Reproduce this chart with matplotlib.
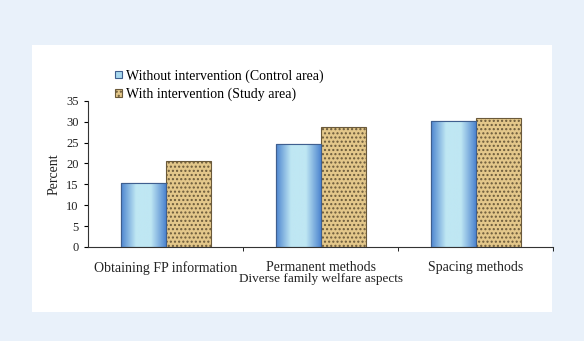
import numpy as np
import matplotlib
matplotlib.use("Agg")
import matplotlib.pyplot as plt
from matplotlib.patches import Rectangle
from matplotlib.colors import LinearSegmentedColormap

#  ------- Data -------  #
categories = ["Obtaining FP information", "Permanent methods", "Spacing methods"]
control = [15.3, 24.7, 30.2]
study = [20.6, 28.8, 31.0]
series_names = ["Without intervention (Control area)", "With intervention (Study area)"]

plt.rcParams['font.family'] = ['Liberation Serif', 'DejaVu Serif']
plt.rcParams['hatch.color'] = "#c9a868"

fig = plt.figure(figsize=(5.84, 3.41), dpi=100)
fig.patch.set_facecolor("#e9f1fa")
# white panel behind the chart
fig.patches.append(Rectangle((0.055, 0.085), 0.89, 0.783, transform=fig.transFigure,
                             facecolor="white", edgecolor="none", zorder=-5))

ax = fig.add_axes([0.151, 0.276, 0.796, 0.428])
ax.set_facecolor("none")
ax.set_zorder(1)

x = np.arange(len(categories))
w = 0.29
blue_bars = ax.bar(x - w / 2, control, w, color="#a8d8ee", edgecolor="#3f5f8f", linewidth=0.8,
                   label=series_names[0], zorder=2)
tan_bars = ax.bar(x + w / 2, study, w, color="#e3c78a", edgecolor="#6b5a3a", linewidth=0.8,
                  hatch="....", label=series_names[1], zorder=2)

# gradient fill for blue bars
cmap = LinearSegmentedColormap.from_list("bl", ["#4f86d0", "#bfe7f3", "#bfe7f3", "#4f86d0"])
grad = np.linspace(0, 1, 100).reshape(1, -1)
for b in blue_bars:
    im = ax.imshow(grad, cmap=cmap, aspect="auto", zorder=2.5,
                   extent=[b.get_x(), b.get_x() + b.get_width(), 0, b.get_height()])
    im.set_clip_path(b)
    ax.add_patch(Rectangle((b.get_x(), 0), b.get_width(), b.get_height(), fill=False,
                           edgecolor="#3f5f8f", linewidth=0.8, zorder=3))

ax.set_xlim(-0.5, 2.5)
ax.set_ylim(0, 35)
ax.set_yticks(range(0, 36, 5))
ax.set_xticks(x)
ax.set_xticklabels(categories, fontsize=10, color="#222222")
ax.set_xticks([0.5, 1.5, 2.5], minor=True)
ax.tick_params(axis="x", which="major", length=0, pad=10)
ax.tick_params(axis="x", which="minor", length=3, direction="out")
ax.tick_params(axis="y", labelsize=9, length=3, direction="out", pad=4, labelcolor="#222222")
for s in ["top", "right"]:
    ax.spines[s].set_visible(False)
for s in ["left", "bottom"]:
    ax.spines[s].set_color("#333333")
    ax.spines[s].set_linewidth(0.8)

ax.set_ylabel("Percent", fontsize=10, labelpad=4, color="#222222")
ax.set_xlabel("Diverse family welfare aspects", fontsize=9.5, labelpad=-1, color="#222222")

ax.legend(loc="lower left", bbox_to_anchor=(0.058, 1.0), frameon=False, fontsize=10,
          handlelength=0.5, handleheight=0.5, handletextpad=0.3, labelspacing=0.35,
          borderaxespad=0, borderpad=0)

fig.savefig("out.png", dpi=100, facecolor=fig.get_facecolor())
